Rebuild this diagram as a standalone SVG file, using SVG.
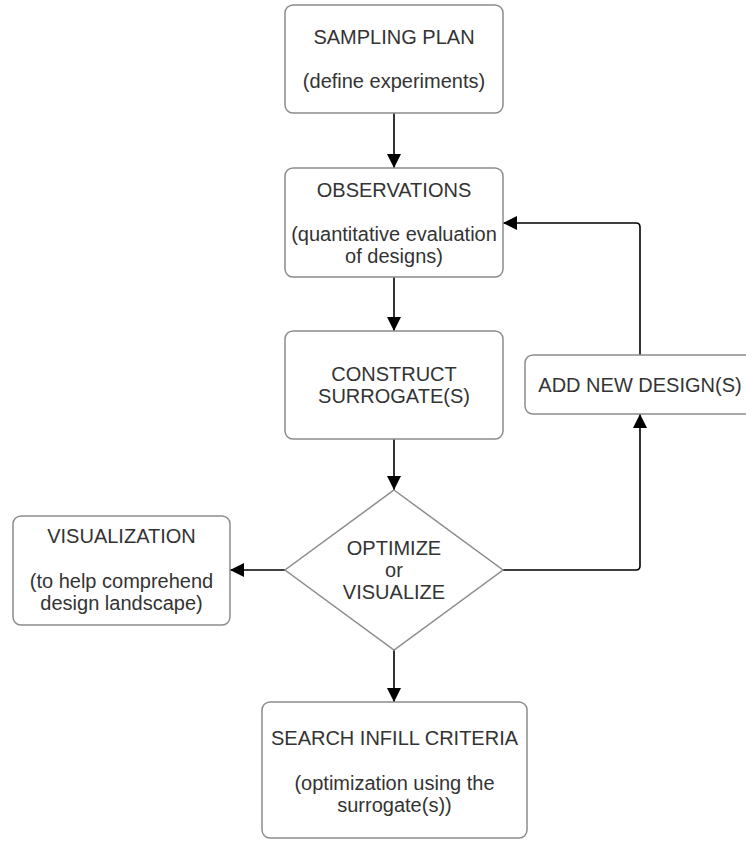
<svg xmlns="http://www.w3.org/2000/svg" width="746" height="843" viewBox="0 0 746 843">
<style>
.box{fill:#fff;stroke:#8c8c8c;stroke-width:1.5}
.t{font-family:"Liberation Sans",Arial,sans-serif;font-size:20px;fill:#333;text-anchor:middle}
.c{fill:none;stroke:#000;stroke-width:1.6}
</style>
<defs>
<marker id="ah" viewBox="0 0 14 14" refX="14" refY="7" markerWidth="14" markerHeight="14" markerUnits="userSpaceOnUse" orient="auto">
<path d="M0,0 L14,7 L0,14 Z" fill="#000"/>
</marker>
</defs>
<rect width="746" height="843" fill="#fff"/>
<g id="connectors">
<path class="c" d="M394,113 L394,168" marker-end="url(#ah)"/>
<path class="c" d="M394,277 L394,331" marker-end="url(#ah)"/>
<path class="c" d="M394,439 L394,490" marker-end="url(#ah)"/>
<path class="c" d="M285,570 L230,570" marker-end="url(#ah)"/>
<path class="c" d="M394,650 L394,702" marker-end="url(#ah)"/>
<path class="c" d="M503,570 L636,570 Q640,570 640,566 L640,414" marker-end="url(#ah)"/>
<path class="c" d="M640,355 L640,227 Q640,223 636,223 L503,223" marker-end="url(#ah)"/>
</g>
<g id="sampling">
<rect class="box" x="285" y="5" width="218" height="108" rx="8"/>
<text class="t" x="394" y="44">SAMPLING PLAN</text>
<text class="t" x="394" y="88">(define experiments)</text>
</g>
<g id="observations">
<rect class="box" x="285" y="168" width="218" height="109" rx="8"/>
<text class="t" x="394" y="197">OBSERVATIONS</text>
<text class="t" x="394" y="241">(quantitative evaluation</text>
<text class="t" x="394" y="263">of designs)</text>
</g>
<g id="construct">
<rect class="box" x="285" y="331" width="218" height="108" rx="8"/>
<text class="t" x="394" y="381">CONSTRUCT</text>
<text class="t" x="394" y="403">SURROGATE(S)</text>
</g>
<g id="addnew">
<rect class="box" x="525" y="355" width="232" height="59" rx="8"/>
<text class="t" x="640" y="392">ADD NEW DESIGN(S)</text>
</g>
<g id="decision">
<polygon class="box" points="394,490 503,570 394,650 285,570"/>
<text class="t" x="394" y="555">OPTIMIZE</text>
<text class="t" x="394" y="577">or</text>
<text class="t" x="394" y="599">VISUALIZE</text>
</g>
<g id="visualization">
<rect class="box" x="13" y="516" width="217" height="109" rx="8"/>
<text class="t" x="121.5" y="543">VISUALIZATION</text>
<text class="t" x="121.5" y="588">(to help comprehend</text>
<text class="t" x="121.5" y="610">design landscape)</text>
</g>
<g id="search">
<rect class="box" x="262" y="702" width="265" height="136" rx="8"/>
<text class="t" x="394.5" y="745">SEARCH INFILL CRITERIA</text>
<text class="t" x="394.5" y="790">(optimization using the</text>
<text class="t" x="394.5" y="812">surrogate(s))</text>
</g>
</svg>
